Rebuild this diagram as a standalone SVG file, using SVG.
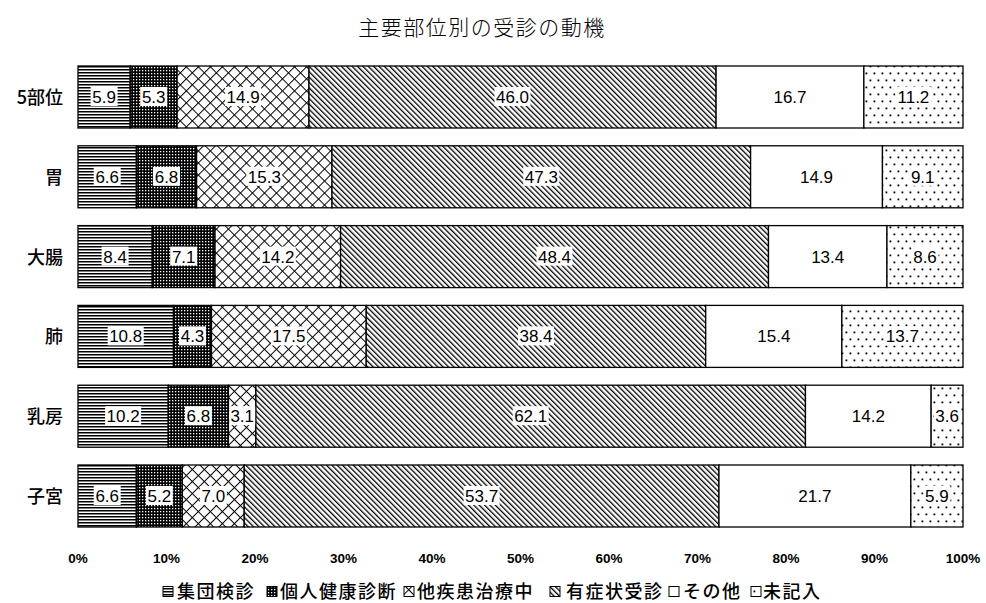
<svg xmlns="http://www.w3.org/2000/svg" width="986" height="603" viewBox="0 0 986 603">
<defs>
<pattern id="pH" patternUnits="userSpaceOnUse" width="6" height="3"><rect width="6" height="3" fill="#fff"/><rect y="0" width="6" height="1.5" fill="#000"/></pattern>
<pattern id="pD" patternUnits="userSpaceOnUse" width="3" height="3"><rect width="3" height="3" fill="#000"/><rect x="1" y="1" width="1.3" height="1.3" fill="#fff"/></pattern>
<pattern id="pX" patternUnits="userSpaceOnUse" width="8.5" height="8.5" patternTransform="rotate(45)"><rect width="8.5" height="8.5" fill="#fff"/><rect width="8.5" height="1" fill="#000"/><rect width="1" height="8.5" fill="#000"/></pattern>
<pattern id="pS" patternUnits="userSpaceOnUse" width="3.8" height="10" patternTransform="rotate(-45)"><rect width="3.8" height="10" fill="#fff"/><rect width="1.3" height="10" fill="#000"/></pattern>
<pattern id="pP" patternUnits="userSpaceOnUse" width="8" height="14"><rect width="8" height="14" fill="#fff"/><rect x="1.5" y="2.5" width="1.8" height="1.8" fill="#000"/><rect x="5.5" y="9.5" width="1.8" height="1.8" fill="#000"/></pattern>
</defs>
<style>
.seg{stroke:#000;stroke-width:1.3}
.h{fill:url(#pH)}.d{fill:url(#pD)}.x{fill:url(#pX)}.s{fill:url(#pS)}.w{fill:#fff}.p{fill:url(#pP)}
.lb{fill:#fff}
.v{font-family:"Liberation Sans",Arial,sans-serif;font-size:17px;text-anchor:middle;fill:#000}
.cat{font-family:"Noto Sans CJK JP",sans-serif;font-size:18px;text-anchor:end;fill:#000;font-weight:500}
.ax{font-family:"Liberation Sans",Arial,sans-serif;font-size:13.5px;font-weight:bold;text-anchor:middle;fill:#000}
.lg{font-family:"Noto Sans CJK JP",sans-serif;font-size:18px;letter-spacing:1.5px;fill:#000;font-weight:500}
.t{font-family:"Noto Sans CJK JP",sans-serif;font-size:21px;letter-spacing:1.5px;text-anchor:middle;fill:#000;font-weight:300}
.lbox{stroke:#000;stroke-width:1}
</style>
<rect width="986" height="603" fill="#fff"/>
<text class="t" x="482" y="35">主要部位別の受診の動機</text>

<g id="row-5buii">
<text class="cat" x="63" y="104">5部位</text>
<rect class="seg h" x="78" y="66" width="52.22" height="62"/>
<rect class="seg d" x="130.22" y="66" width="46.9" height="62"/>
<rect class="seg x" x="177.12" y="66" width="131.87" height="62"/>
<rect class="seg s" x="308.99" y="66" width="407.1" height="62"/>
<rect class="seg w" x="716.09" y="66" width="147.79" height="62"/>
<rect class="seg p" x="863.88" y="66" width="99.12" height="62"/>
<rect class="lb" x="90.6" y="87" width="27" height="19"/><text class="v" x="104.1" y="103">5.9</text>
<rect class="lb" x="140.2" y="87" width="27" height="19"/><text class="v" x="153.7" y="103">5.3</text>
<rect class="lb" x="225.1" y="87" width="36" height="19"/><text class="v" x="243.1" y="103">14.9</text>
<rect class="lb" x="494.5" y="87" width="36" height="19"/><text class="v" x="512.5" y="103">46.0</text>
<text class="v" x="790" y="103">16.7</text>
<rect class="lb" x="895.4" y="87" width="36" height="19"/><text class="v" x="913.4" y="103">11.2</text>
</g>

<g id="row-i">
<text class="cat" x="63" y="183.8">胃</text>
<rect class="seg h" x="78" y="145.8" width="58.41" height="62"/>
<rect class="seg d" x="136.41" y="145.8" width="60.18" height="62"/>
<rect class="seg x" x="196.59" y="145.8" width="135.4" height="62"/>
<rect class="seg s" x="331.99" y="145.8" width="418.61" height="62"/>
<rect class="seg w" x="750.6" y="145.8" width="131.87" height="62"/>
<rect class="seg p" x="882.47" y="145.8" width="80.53" height="62"/>
<rect class="lb" x="93.7" y="166.8" width="27" height="19"/><text class="v" x="107.2" y="182.8">6.6</text>
<rect class="lb" x="153" y="166.8" width="27" height="19"/><text class="v" x="166.5" y="182.8">6.8</text>
<rect class="lb" x="246.3" y="166.8" width="36" height="19"/><text class="v" x="264.3" y="182.8">15.3</text>
<rect class="lb" x="523.3" y="166.8" width="36" height="19"/><text class="v" x="541.3" y="182.8">47.3</text>
<text class="v" x="816.5" y="182.8">14.9</text>
<rect class="lb" x="909.2" y="166.8" width="27" height="19"/><text class="v" x="922.7" y="182.8">9.1</text>
</g>

<g id="row-daicho">
<text class="cat" x="63" y="263.6">大腸</text>
<rect class="seg h" x="78" y="225.6" width="74.27" height="62"/>
<rect class="seg d" x="152.27" y="225.6" width="62.77" height="62"/>
<rect class="seg x" x="215.04" y="225.6" width="125.54" height="62"/>
<rect class="seg s" x="340.58" y="225.6" width="427.92" height="62"/>
<rect class="seg w" x="768.5" y="225.6" width="118.47" height="62"/>
<rect class="seg p" x="886.97" y="225.6" width="76.03" height="62"/>
<rect class="lb" x="101.6" y="246.6" width="27" height="19"/><text class="v" x="115.1" y="262.6">8.4</text>
<rect class="lb" x="170.2" y="246.6" width="27" height="19"/><text class="v" x="183.7" y="262.6">7.1</text>
<rect class="lb" x="259.8" y="246.6" width="36" height="19"/><text class="v" x="277.8" y="262.6">14.2</text>
<rect class="lb" x="536.5" y="246.6" width="36" height="19"/><text class="v" x="554.5" y="262.6">48.4</text>
<text class="v" x="827.7" y="262.6">13.4</text>
<rect class="lb" x="911.5" y="246.6" width="27" height="19"/><text class="v" x="925" y="262.6">8.6</text>
</g>

<g id="row-hai">
<text class="cat" x="63" y="343.4">肺</text>
<rect class="seg h" x="78" y="305.4" width="95.48" height="62"/>
<rect class="seg d" x="173.48" y="305.4" width="38.02" height="62"/>
<rect class="seg x" x="211.5" y="305.4" width="154.72" height="62"/>
<rect class="seg s" x="366.22" y="305.4" width="339.5" height="62"/>
<rect class="seg w" x="705.72" y="305.4" width="136.16" height="62"/>
<rect class="seg p" x="841.88" y="305.4" width="121.12" height="62"/>
<rect class="lb" x="107.7" y="326.4" width="36" height="19"/><text class="v" x="125.7" y="342.4">10.8</text>
<rect class="lb" x="179" y="326.4" width="27" height="19"/><text class="v" x="192.5" y="342.4">4.3</text>
<rect class="lb" x="270.9" y="326.4" width="36" height="19"/><text class="v" x="288.9" y="342.4">17.5</text>
<rect class="lb" x="518" y="326.4" width="36" height="19"/><text class="v" x="536" y="342.4">38.4</text>
<text class="v" x="773.8" y="342.4">15.4</text>
<rect class="lb" x="884.4" y="326.4" width="36" height="19"/><text class="v" x="902.4" y="342.4">13.7</text>
</g>

<g id="row-nyubo">
<text class="cat" x="63" y="423.2">乳房</text>
<rect class="seg h" x="78" y="385.2" width="90.27" height="62"/>
<rect class="seg d" x="168.27" y="385.2" width="60.18" height="62"/>
<rect class="seg x" x="228.45" y="385.2" width="27.44" height="62"/>
<rect class="seg s" x="255.89" y="385.2" width="549.58" height="62"/>
<rect class="seg w" x="805.47" y="385.2" width="125.67" height="62"/>
<rect class="seg p" x="931.14" y="385.2" width="31.86" height="62"/>
<rect class="lb" x="105.1" y="406.2" width="36" height="19"/><text class="v" x="123.1" y="422.2">10.2</text>
<rect class="lb" x="184.9" y="406.2" width="27" height="19"/><text class="v" x="198.4" y="422.2">6.8</text>
<rect class="lb" x="229.2" y="406.2" width="26" height="19"/><text class="v" x="242.2" y="422.2">3.1</text>
<rect class="lb" x="512.7" y="406.2" width="36" height="19"/><text class="v" x="530.7" y="422.2">62.1</text>
<text class="v" x="868.3" y="422.2">14.2</text>
<rect class="lb" x="934" y="406.2" width="26.5" height="19"/><text class="v" x="947.1" y="422.2">3.6</text>
</g>

<g id="row-shikyu">
<text class="cat" x="63" y="503">子宮</text>
<rect class="seg h" x="78" y="465" width="58.35" height="62"/>
<rect class="seg d" x="136.35" y="465" width="45.98" height="62"/>
<rect class="seg x" x="182.33" y="465" width="61.88" height="62"/>
<rect class="seg s" x="244.21" y="465" width="474.77" height="62"/>
<rect class="seg w" x="718.98" y="465" width="191.85" height="62"/>
<rect class="seg p" x="910.83" y="465" width="52.17" height="62"/>
<rect class="lb" x="93.7" y="486" width="27" height="19"/><text class="v" x="107.2" y="502">6.6</text>
<rect class="lb" x="145.8" y="486" width="27" height="19"/><text class="v" x="159.3" y="502">5.2</text>
<rect class="lb" x="199.8" y="486" width="27" height="19"/><text class="v" x="213.3" y="502">7.0</text>
<rect class="lb" x="463.6" y="486" width="36" height="19"/><text class="v" x="481.6" y="502">53.7</text>
<text class="v" x="814.9" y="502">21.7</text>
<rect class="lb" x="923.4" y="486" width="27" height="19"/><text class="v" x="936.9" y="502">5.9</text>
</g>

<g id="axis">
<text class="ax" x="78" y="563">0%</text>
<text class="ax" x="166.5" y="563">10%</text>
<text class="ax" x="255" y="563">20%</text>
<text class="ax" x="343.5" y="563">30%</text>
<text class="ax" x="432" y="563">40%</text>
<text class="ax" x="520.5" y="563">50%</text>
<text class="ax" x="609" y="563">60%</text>
<text class="ax" x="697.5" y="563">70%</text>
<text class="ax" x="786" y="563">80%</text>
<text class="ax" x="874.5" y="563">90%</text>
<text class="ax" x="963" y="563">100%</text>
</g>

<g id="legend">
<rect class="lbox h" x="163" y="586.5" width="10" height="10"/><text class="lg" x="177" y="598">集団検診</text>
<rect class="lbox d" x="267" y="586.5" width="10" height="10"/><text class="lg" x="280" y="598">個人健康診断</text>
<rect class="lbox x" x="404" y="586.5" width="10" height="10"/><text class="lg" x="417" y="598">他疾患治療中</text>
<rect class="lbox s" x="550" y="586.5" width="10" height="10"/><text class="lg" x="566" y="598">有症状受診</text>
<rect class="lbox w" x="669" y="586.5" width="10" height="10"/><text class="lg" x="683" y="598">その他</text>
<rect class="lbox p" x="751" y="586.5" width="10" height="10"/><text class="lg" x="763" y="598">未記入</text>
</g>
</svg>
